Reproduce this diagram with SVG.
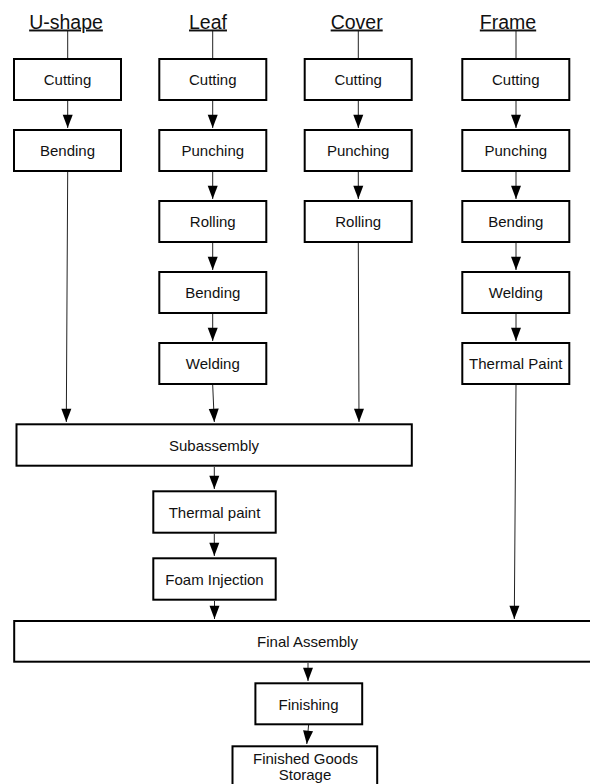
<svg xmlns="http://www.w3.org/2000/svg" width="590" height="784" viewBox="0 0 590 784">
<style>
.box{fill:#fff;stroke:#000;stroke-width:2}
.lbl{font-family:"Liberation Sans",Arial,sans-serif;font-size:15px;fill:#111;text-anchor:middle}
.hdr{font-family:"Liberation Sans",Arial,sans-serif;font-size:19.5px;fill:#111;text-anchor:middle;text-decoration:underline}
.ln{fill:none;stroke:#222;stroke-width:1}
.arr{fill:none;stroke:#222;stroke-width:1;marker-end:url(#ah)}
</style>
<defs>
<marker id="ah" markerUnits="userSpaceOnUse" markerWidth="10" markerHeight="13" refX="9" refY="4.5" orient="auto" viewBox="0 0 9 9" overflow="visible">
<path d="M0,0 L12,4.5 L0,9 Z" fill="#000" transform="translate(-3,0)"/>
</marker>
</defs>
<rect width="590" height="784" fill="#fff"/>

<g id="connectors">
<line class="ln" x1="67.7" y1="31" x2="67.7" y2="58"/>
<line class="ln" x1="212.7" y1="31" x2="212.7" y2="58"/>
<line class="ln" x1="358.3" y1="31" x2="358.3" y2="58"/>
<line class="ln" x1="516" y1="31" x2="516" y2="58"/>

<line class="arr" x1="67.7" y1="101" x2="67.7" y2="128"/>
<line class="arr" x1="212.7" y1="101" x2="212.7" y2="128"/>
<line class="arr" x1="212.7" y1="172" x2="212.7" y2="199"/>
<line class="arr" x1="212.7" y1="243" x2="212.7" y2="270"/>
<line class="arr" x1="212.7" y1="314" x2="212.7" y2="341"/>
<line class="arr" x1="358.3" y1="101" x2="358.3" y2="128"/>
<line class="arr" x1="358.3" y1="172" x2="358.3" y2="199"/>
<line class="arr" x1="516" y1="101" x2="516" y2="128"/>
<line class="arr" x1="516" y1="172" x2="516" y2="199"/>
<line class="arr" x1="516" y1="243" x2="516" y2="270"/>
<line class="arr" x1="516" y1="314" x2="516" y2="341"/>

<line class="arr" x1="67.7" y1="172" x2="66.3" y2="422"/>
<line class="arr" x1="212.7" y1="385" x2="214.3" y2="422"/>
<line class="arr" x1="358.3" y1="243" x2="359" y2="422"/>
<line class="arr" x1="516" y1="385" x2="514.3" y2="619"/>
<line class="arr" x1="214.3" y1="467" x2="214.3" y2="489"/>
<line class="arr" x1="214.3" y1="534" x2="214.3" y2="556"/>
<line class="arr" x1="214.5" y1="601" x2="214.5" y2="619"/>
<line class="arr" x1="308" y1="663" x2="308" y2="681"/>
<line class="arr" x1="308.6" y1="725" x2="306.8" y2="744"/>
</g>

<g id="header-ushape"><text class="hdr" x="66" y="28.5">U-shape</text></g>
<g id="header-leaf"><text class="hdr" x="208" y="28.5">Leaf</text></g>
<g id="header-cover"><text class="hdr" x="356.7" y="28.5">Cover</text></g>
<g id="header-frame"><text class="hdr" x="508" y="28.5">Frame</text></g>

<g id="u-cutting"><rect class="box" x="14" y="59" width="107" height="41"/><text class="lbl" x="67.5" y="85">Cutting</text></g>
<g id="u-bending"><rect class="box" x="14" y="130" width="107" height="41"/><text class="lbl" x="67.5" y="156">Bending</text></g>

<g id="l-cutting"><rect class="box" x="159.3" y="59" width="107" height="41"/><text class="lbl" x="212.8" y="85">Cutting</text></g>
<g id="l-punching"><rect class="box" x="159.3" y="130" width="107" height="41"/><text class="lbl" x="212.8" y="156">Punching</text></g>
<g id="l-rolling"><rect class="box" x="159.3" y="201" width="107" height="41"/><text class="lbl" x="212.8" y="227">Rolling</text></g>
<g id="l-bending"><rect class="box" x="159.3" y="272" width="107" height="41"/><text class="lbl" x="212.8" y="298">Bending</text></g>
<g id="l-welding"><rect class="box" x="159.3" y="343" width="107" height="41"/><text class="lbl" x="212.8" y="369">Welding</text></g>

<g id="c-cutting"><rect class="box" x="304.7" y="59" width="107" height="41"/><text class="lbl" x="358.2" y="85">Cutting</text></g>
<g id="c-punching"><rect class="box" x="304.7" y="130" width="107" height="41"/><text class="lbl" x="358.2" y="156">Punching</text></g>
<g id="c-rolling"><rect class="box" x="304.7" y="201" width="107" height="41"/><text class="lbl" x="358.2" y="227">Rolling</text></g>

<g id="f-cutting"><rect class="box" x="462.3" y="59" width="107" height="41"/><text class="lbl" x="515.8" y="85">Cutting</text></g>
<g id="f-punching"><rect class="box" x="462.3" y="130" width="107" height="41"/><text class="lbl" x="515.8" y="156">Punching</text></g>
<g id="f-bending"><rect class="box" x="462.3" y="201" width="107" height="41"/><text class="lbl" x="515.8" y="227">Bending</text></g>
<g id="f-welding"><rect class="box" x="462.3" y="272" width="107" height="41"/><text class="lbl" x="515.8" y="298">Welding</text></g>
<g id="f-thermal"><rect class="box" x="462.3" y="343" width="107" height="41"/><text class="lbl" x="515.8" y="369">Thermal Paint</text></g>

<g id="subassembly"><rect class="box" x="16.5" y="424.3" width="395.3" height="41.4"/><text class="lbl" x="214" y="450.5">Subassembly</text></g>
<g id="thermal-paint"><rect class="box" x="153.3" y="491.3" width="122.4" height="41.4"/><text class="lbl" x="214.5" y="517.5">Thermal paint</text></g>
<g id="foam-injection"><rect class="box" x="153.3" y="558.3" width="122.4" height="41.4"/><text class="lbl" x="214.5" y="584.5">Foam Injection</text></g>
<g id="final-assembly"><rect class="box" x="14.2" y="621" width="600" height="40.7"/><text class="lbl" x="307.5" y="647">Final Assembly</text></g>
<g id="finishing"><rect class="box" x="255.4" y="683.3" width="106.8" height="41"/><text class="lbl" x="308.5" y="709.5">Finishing</text></g>
<g id="storage"><rect class="box" x="232.5" y="746.3" width="144.7" height="60"/><text class="lbl" x="305.5" y="763.5">Finished Goods</text><text class="lbl" x="305" y="779.5">Storage</text></g>
</svg>
